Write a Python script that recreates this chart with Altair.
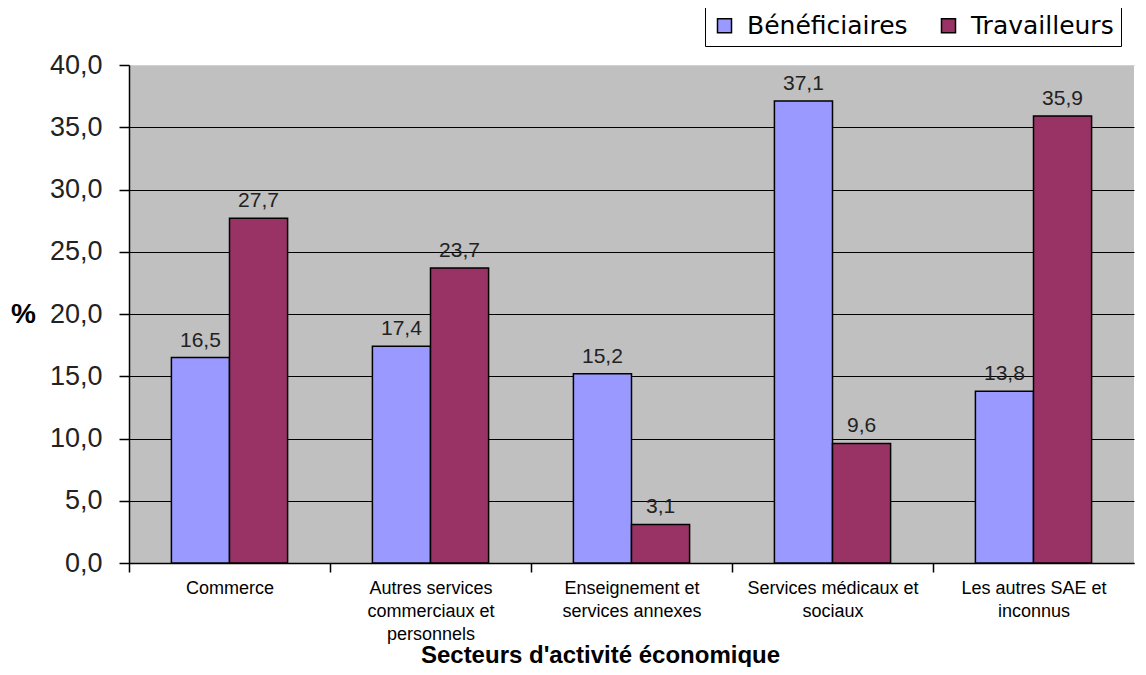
import altair as alt
import pandas as pd

categories = [
    "Commerce",
    "Autres services|commerciaux et|personnels",
    "Enseignement et|services annexes",
    "Services médicaux et|sociaux",
    "Les autres SAE et|inconnus",
]
series = ["Bénéficiaires", "Travailleurs"]
beneficiaires = [16.5, 17.4, 15.2, 37.1, 13.8]
travailleurs = [27.7, 23.7, 3.1, 9.6, 35.9]
colors = ["#9999FF", "#993366"]
y_ticks = [0, 5, 10, 15, 20, 25, 30, 35, 40]

rows = []
for c, b, t in zip(categories, beneficiaires, travailleurs):
    rows.append({"cat": c, "serie": series[0], "val": b})
    rows.append({"cat": c, "serie": series[1], "val": t})
df = pd.DataFrame(rows)

W = 1005
H = 498
STEP = W / len(categories)
FONT = "Liberation Sans"
WIDE = "DejaVu Sans"

base = alt.Chart(df).encode(
    x=alt.X(
        "cat:N",
        sort=categories,
        scale=alt.Scale(paddingInner=0, paddingOuter=0),
        axis=alt.Axis(
            title="Secteurs d'activité économique",
            titleFont=FONT,
            titleFontSize=24,
            titleFontWeight="bold",
            titleColor="black",
            titleX=471,
            titleY=99,
            titleAlign="center",
            titleBaseline="alphabetic",
            labelExpr="split(datum.label, '|')",
            labelFont=FONT,
            labelFontSize=18,
            labelColor="black",
            labelLineHeight=23,
            labelBaseline="top",
            labelPadding=7,
            labelAngle=0,
            labelLimit=400,
            labelOffset=STEP / 2,
            tickOffset=-STEP / 2,
            tickSize=9,
            tickWidth=1.5,
            tickColor="black",
            domainColor="black",
            domainWidth=1.5,
            grid=False,
        ),
    ),
    xOffset=alt.XOffset(
        "serie:N", sort=series, scale=alt.Scale(paddingInner=0, paddingOuter=0.73)
    ),
    y=alt.Y(
        "val:Q",
        scale=alt.Scale(domain=[0, 40], nice=False),
        axis=alt.Axis(
            values=y_ticks,
            labelExpr="replace(format(datum.value, '.1f'), '.', ',')",
            labelFont=FONT,
            labelFontSize=27,
            labelColor="#222222",
            labelPadding=17,
            tickSize=10,
            tickWidth=1.5,
            tickColor="black",
            domainColor="black",
            domainWidth=1.5,
            grid=True,
            gridColor=alt.condition("datum.value == 40", alt.value("#d0d0d0"), alt.value("black")),
            gridWidth=1.2,
            title="%",
            titleAngle=0,
            titleFont=FONT,
            titleFontSize=28,
            titleFontWeight="bold",
            titleColor="black",
            titleX=-106,
            titleY=H / 2,
            titleAlign="center",
            titleBaseline="middle",
        ),
    ),
)

bars = base.mark_bar(stroke="black", strokeWidth=1.5).encode(
    color=alt.Color(
        "serie:N",
        sort=series,
        scale=alt.Scale(domain=series, range=colors),
        legend=alt.Legend(
            title=None,
            orient="none",
            legendX=576,
            legendY=-59,
            direction="horizontal",
            fillColor="white",
            strokeColor="black",
            padding=7,
            symbolType="square",
            symbolSize=196,
            symbolStrokeColor="black",
            symbolStrokeWidth=1.5,
            symbolOpacity=1,
            labelFont=WIDE,
            labelFontSize=25,
            labelColor="black",
            labelLimit=400,
            labelOffset=10,
            columnPadding=28,
        ),
    )
)

text = base.transform_calculate(
    lab="replace(format(datum.val, '.1f'), '.', ',')"
).mark_text(
    baseline="alphabetic", dy=-11, fontSize=21, font=FONT, color="#222222"
).encode(text="lab:N")

chart = (
    alt.layer(bars, text)
    .properties(
        width=W,
        height=H,
        autosize=alt.AutoSizeParams(type="none"),
        padding={"left": 121, "top": 57, "right": 4, "bottom": 104},
        background="white",
    )
    .configure_view(fill="#C0C0C0", strokeWidth=0)
)

chart.save("out.html", embed_options={"renderer": "svg", "actions": False})
